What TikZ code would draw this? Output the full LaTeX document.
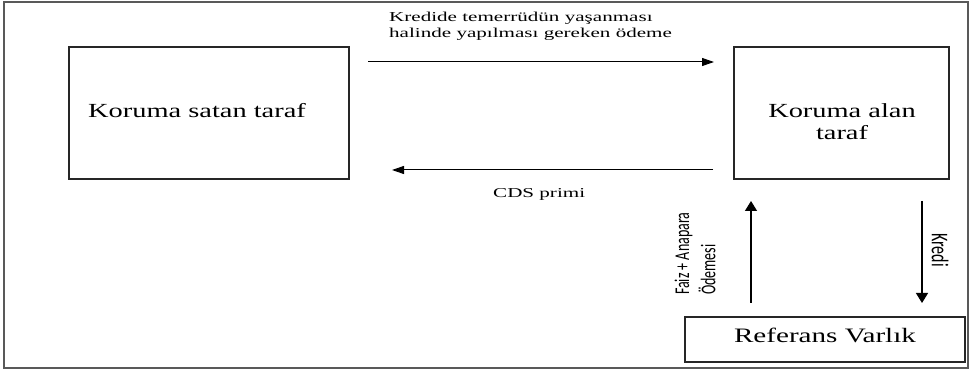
\documentclass[tikz,border=0pt]{standalone}
\usepackage{fontspec}
\usetikzlibrary{arrows.meta}
\newfontfamily\bigserif[FakeStretch=1.42]{Liberation Serif}
\newfontfamily\smallserif[FakeStretch=1.55]{Liberation Serif}
\newfontfamily\calib{Carlito}
\begin{document}
\begin{tikzpicture}[x=1pt,y=-1pt,
  frame/.style={draw=black!65, line width=1.4pt},
  box/.style={draw=black!85, line width=1.1pt, inner sep=0pt, fill=none},
  bigtxt/.style={font=\bigserif\fontsize{20}{22}\selectfont, inner sep=0pt},
  smalltxt/.style={font=\smallserif\fontsize{13.6}{16}\selectfont, inner sep=0pt},
  sanstxt/.style={font=\calib\fontsize{14}{17.5}\selectfont, inner sep=0pt},
  hflow/.style={line width=1pt, -{Triangle[length=12pt,width=8pt]}},
  vflow/.style={line width=1.3pt, -{Triangle[length=10pt,width=12pt]}}]
\path[use as bounding box] (0,0) rectangle (972,371);
\draw[frame] (4,2) rectangle (968,368);
% boxes
\node[box, minimum width=280pt, minimum height=132pt] (seller) at (209,113) {};
\node[box, minimum width=215pt, minimum height=132pt] (buyer) at (841.5,113) {};
\node[box, minimum width=280pt, minimum height=45pt] (ref) at (825,339.5) {};
% box texts
\node[bigtxt, anchor=base] (sellertxt) at (197,118) {Koruma satan taraf};
\node[bigtxt, anchor=base, align=center] (buyertxt) at (842,140) {Koruma alan\\taraf};
\node[bigtxt, anchor=base] (reftxt) at (825,343) {\fontsize{20.5}{22}\selectfont Referans Varlık};
% arrows
\coordinate (t1) at (368,62);
\coordinate (t2) at (714,62);
\coordinate (b1) at (713,170);
\coordinate (b2) at (392,170);
\coordinate (u1) at (751,303);
\coordinate (u2) at (751,201);
\coordinate (d1) at (922,201);
\coordinate (d2) at (922,303);
\draw[hflow] (t1) -- (t2);
\draw[hflow] (b1) -- (b2);
\draw[vflow] (u1) -- (u2);
\draw[vflow] (d1) -- (d2);
% labels
\node[smalltxt, anchor=base west, align=left] (toplbl) at (389,38) {Kredide temerrüdün yaşanması\\halinde yapılması gereken ödeme};
\node[smalltxt, anchor=base west] (cdslbl) at (493,198) {CDS primi};
\node[sanstxt, rotate=90, anchor=west] (faizlbl) at (697,295) {\scalebox{1}[1.5]{\begin{tabular}{@{}l@{}}Faiz + Anapara\\Ödemesi\end{tabular}}};
\node[sanstxt, rotate=-90, anchor=center] (kredilbl) at (940,250) {\scalebox{1}[1.5]{\fontsize{16}{18}\selectfont Kredi}};
\end{tikzpicture}
\end{document}
